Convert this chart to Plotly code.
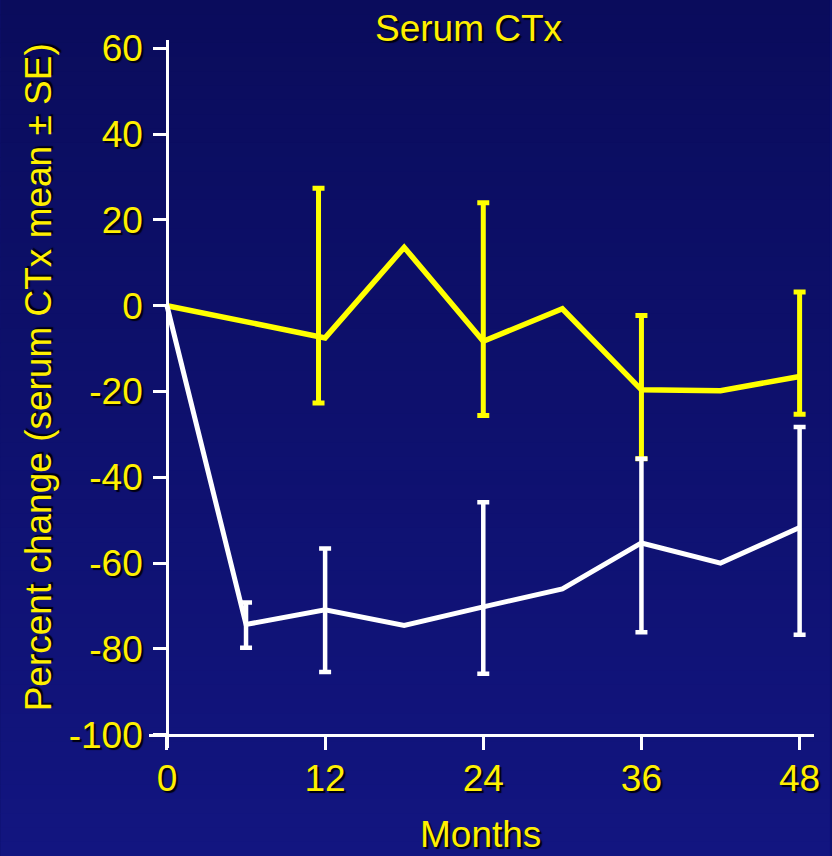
import plotly.graph_objects as go

# ---------------- data ----------------
months = [0, 6, 12, 18, 24, 30, 36, 42, 48]

# yellow series (mean % change)
yellow_x = [0, 12, 18, 24, 30, 36, 42, 48]
yellow_mean = [0, -7.5, 13.6, -8.3, -0.7, -19.6, -19.8, -16.5]
# yellow SE bars (upper / lower ends)
yellow_se_x = [11.5, 24, 36, 48]
yellow_se_mean = [-7.5, -8.3, -19.6, -16.5]
yellow_se_hi = [27.4, 24.0, -2.3, 3.2]
yellow_se_lo = [-22.7, -25.6, -35.7, -25.3]

# white series (mean % change)
white_x = [0, 6, 12, 18, 24, 30, 36, 42, 48]
white_mean = [0, -74.3, -70.9, -74.5, -70.2, -66.0, -55.3, -60.0, -51.7]
white_se_x = [6, 12, 24, 36, 48]
white_se_mean = [-74.3, -70.9, -70.2, -55.3, -51.7]
white_se_hi = [-69.2, -56.6, -45.8, -35.7, -28.3]
white_se_lo = [-79.7, -85.4, -85.8, -76.1, -76.7]

y_ticks = [60, 40, 20, 0, -20, -40, -60, -80, -100]
x_ticks = [0, 12, 24, 36, 48]

title_text = "Serum CTx"
y_title = "Percent change (serum CTx mean \u00b1 SE)"
x_title = "Months"

# ---------------- style ----------------
W, H = 832, 856
L, R, T, B = 149, 16, 40, 108
YEL = "#FFFF00"
TXT = "#FFF000"
FONT = "Liberation Sans, Arial, sans-serif"
SHADOW = "2px 2px 1px #000010"

fig = go.Figure()

def err(mean, hi, lo):
    return dict(type="data", symmetric=False,
                array=[h - m for h, m in zip(hi, mean)],
                arrayminus=[m - l for m, l in zip(mean, lo)])

# yellow
fig.add_trace(go.Scatter(x=yellow_x, y=yellow_mean, mode="lines",
                         line=dict(color=YEL, width=5.5), showlegend=False, hoverinfo="skip"))
ey = err(yellow_se_mean, yellow_se_hi, yellow_se_lo)
ey.update(color=YEL, thickness=5, width=6)
fig.add_trace(go.Scatter(x=yellow_se_x, y=yellow_se_mean, mode="markers",
                         marker=dict(size=1, color="rgba(0,0,0,0)"),
                         error_y=ey, showlegend=False, hoverinfo="skip"))
# white
fig.add_trace(go.Scatter(x=white_x, y=white_mean, mode="lines",
                         line=dict(color="white", width=5), showlegend=False, hoverinfo="skip"))
ew = err(white_se_mean, white_se_hi, white_se_lo)
ew.update(color="white", thickness=4.5, width=6)
fig.add_trace(go.Scatter(x=white_se_x, y=white_se_mean, mode="markers",
                         marker=dict(size=1, color="rgba(0,0,0,0)"),
                         error_y=ew, showlegend=False, hoverinfo="skip"))

# ---------------- background gradient ----------------
pw, ph = W - L - R, H - T - B
top_c = (10, 12, 92)
bot_c = (18, 21, 128)
n = 60
shapes = []
for i in range(n):
    f = i / (n - 1)
    c = tuple(round(top_c[k] + (bot_c[k] - top_c[k]) * f) for k in range(3))
    y0_px = H * i / n
    y1_px = H * (i + 1) / n + 1
    shapes.append(dict(type="rect", xref="paper", yref="paper", layer="below",
                       x0=(0 - L) / pw, x1=(W - L) / pw,
                       y0=(H - B - y1_px) / ph, y1=(H - B - y0_px) / ph,
                       fillcolor="rgb(%d,%d,%d)" % c, line=dict(width=0)))

# axis mapping
x_left, x_right = -1.3616, 49.092
y_bot, y_top = -103.09, 61.93
x0_paper = (0 - x_left) / (x_right - x_left)
ym100_paper = (-100 - y_bot) / (y_top - y_bot)

fig.update_layout(
    width=W, height=H,
    margin=dict(l=L, r=R, t=T, b=B, pad=0),
    paper_bgcolor="rgb(14,16,110)",
    plot_bgcolor="rgba(0,0,0,0)",
    shapes=shapes,
    font=dict(family=FONT, color=TXT, size=37, shadow=SHADOW),
    xaxis=dict(range=[x_left, x_right], anchor="free", position=ym100_paper,
               showline=True, linecolor="white", linewidth=2.5,
               ticks="outside", ticklen=14, tickwidth=2.5, tickcolor="white",
               tickvals=x_ticks, ticktext=[str(v) for v in x_ticks],
               tickfont=dict(family=FONT, color=TXT, size=37, shadow=SHADOW),
               ticklabelstandoff=-4,
               showgrid=False, zeroline=False, fixedrange=True),
    yaxis=dict(range=[y_bot, y_top], anchor="free", position=x0_paper,
               showline=True, linecolor="white", linewidth=2.5,
               ticks="outside", ticklen=13, tickwidth=2.5, tickcolor="white",
               tickvals=y_ticks, ticktext=[str(v) for v in y_ticks],
               tickfont=dict(family=FONT, color=TXT, size=37, shadow=SHADOW),
               ticklabelstandoff=3,
               showgrid=False, zeroline=False, fixedrange=True),
    annotations=[
        dict(text=title_text, xref="paper", yref="paper",
             x=(469.5 - L) / pw, y=(H - B - 28) / ph, xanchor="center", yanchor="middle",
             showarrow=False, font=dict(family=FONT, color=TXT, size=37, shadow=SHADOW)),
        dict(text=y_title, xref="paper", yref="paper", textangle=-90,
             x=(38 - L) / pw, y=(H - B - 377) / ph, xanchor="center", yanchor="middle",
             showarrow=False, font=dict(family=FONT, color=TXT, size=37, shadow=SHADOW)),
        dict(text=x_title, xref="paper", yref="paper",
             x=(481.5 - L) / pw, y=(H - B - 856) / ph, xanchor="center", yanchor="bottom",
             borderpad=0,
             showarrow=False, font=dict(family=FONT, color=TXT, size=37, shadow=SHADOW)),
    ],
)

fig.write_html("out.html")
